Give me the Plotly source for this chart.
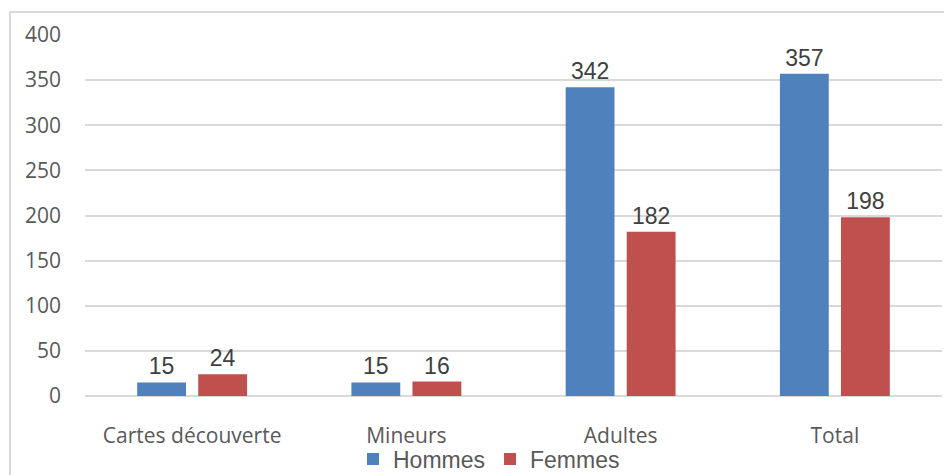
import plotly.graph_objects as go

categories = ["Cartes découverte", "Mineurs", "Adultes", "Total"]
hommes = [15, 15, 342, 357]
femmes = [24, 16, 182, 198]
series_names = ["Hommes", "Femmes"]

# the page body has an 8px margin, so the figure is drawn at (8, 8)
OFF = 8
W, H = 952 - OFF, 475 - OFF
L, T = 85 - OFF, 35 - OFF
R = W - (942 - OFF)
B = H - (396 - OFF)
pw, ph = W - L - R, H - T - B

fig = go.Figure()
for name, vals, col in [(series_names[0], hommes, "#4F81BD"), (series_names[1], femmes, "#C0504D")]:
    fig.add_trace(go.Bar(
        x=categories, y=vals, name=name, marker=dict(color=col, line=dict(width=0)),
        text=[str(v) for v in vals], textposition="outside", cliponaxis=False,
        textfont=dict(family="Liberation Sans, Arial", size=23, color="#404040"),
    ))

def px(x):
    return (x - OFF - L) / pw

def py(y):
    return (H - B - (y - OFF)) / ph

fig.update_layout(
    width=W, height=H,
    margin=dict(l=L, r=R, t=T, b=B, autoexpand=False),
    paper_bgcolor="white", plot_bgcolor="white",
    barmode="group", bargap=0.43, bargroupgap=0.2,
    showlegend=True,
    legend=dict(orientation="h", x=px(489), xanchor="center", y=py(459), yanchor="middle",
                font=dict(family="Liberation Sans, Arial", size=23, color="#595959"),
                bgcolor="rgba(0,0,0,0)", traceorder="normal", itemwidth=30),
    xaxis=dict(showgrid=False, showline=False, ticks="", zeroline=False, automargin=False,
               tickfont=dict(family="Open Sans", size=21, color="#595959"),
               ticklabelstandoff=25),
    yaxis=dict(range=[0, 400], dtick=50, showgrid=True, gridcolor="#d9d9d9", gridwidth=1.5,
               zeroline=True, zerolinecolor="#d9d9d9", zerolinewidth=1.5,
               showline=False, ticks="", automargin=False,
               tickfont=dict(family="Open Sans", size=21, color="#595959"),
               ticklabelstandoff=23),
    shapes=[dict(type="rect", xref="paper", yref="paper",
                 x0=px(10), x1=px(1000), y0=py(520), y1=py(12),
                 line=dict(color="#d9d9d9", width=2), fillcolor="rgba(0,0,0,0)", layer="below")],
)

fig.write_html("out.html")
